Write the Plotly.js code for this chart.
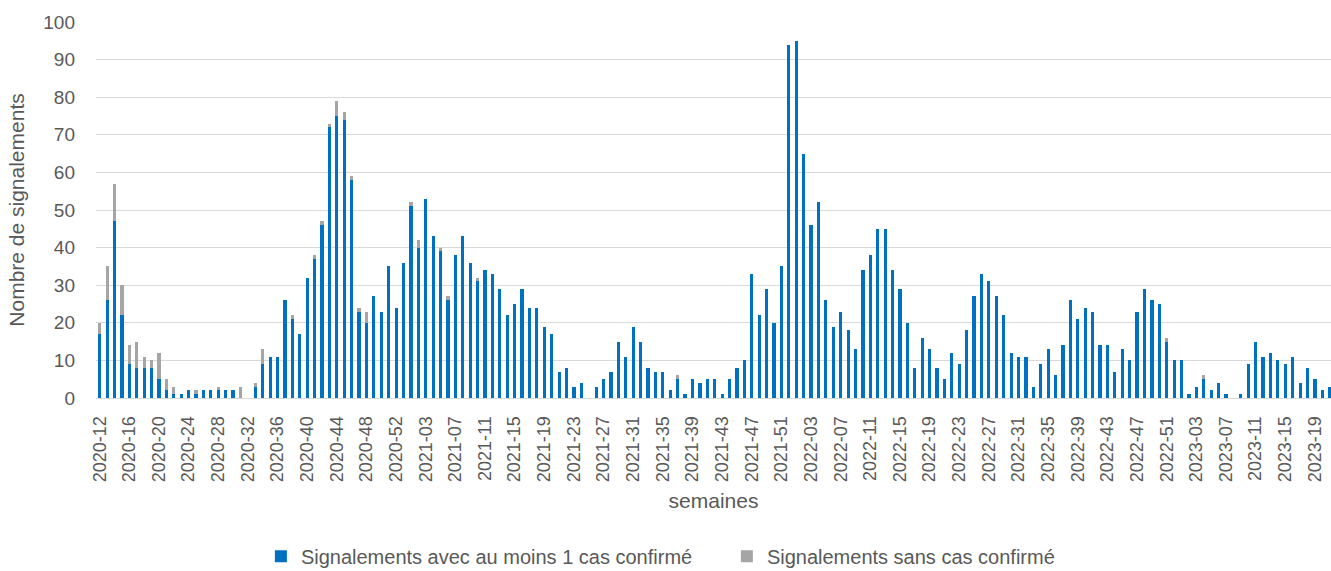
<!DOCTYPE html>
<html>
<head>
<meta charset="utf-8">
<script src="https://cdn.plot.ly/plotly-3.0.1.min.js"></script>
<style>
  html, body { margin: 0; padding: 0; background: #ffffff; }
  #chart { width: 1331px; height: 571px; }
</style>
</head>
<body>
<div id="chart"></div>
<script>
// Week categories (2020-12 … 2023-21)
const weeks = [
  "2020-12","2020-13","2020-14","2020-15","2020-16","2020-17","2020-18","2020-19","2020-20","2020-21",
  "2020-22","2020-23","2020-24","2020-25","2020-26","2020-27","2020-28","2020-29","2020-30","2020-31",
  "2020-32","2020-33","2020-34","2020-35","2020-36","2020-37","2020-38","2020-39","2020-40","2020-41",
  "2020-42","2020-43","2020-44","2020-45","2020-46","2020-47","2020-48","2020-49","2020-50","2020-51",
  "2020-52","2020-53",
  "2021-01","2021-02","2021-03","2021-04","2021-05","2021-06","2021-07","2021-08","2021-09","2021-10",
  "2021-11","2021-12","2021-13","2021-14","2021-15","2021-16","2021-17","2021-18","2021-19","2021-20",
  "2021-21","2021-22","2021-23","2021-24","2021-25","2021-26","2021-27","2021-28","2021-29","2021-30",
  "2021-31","2021-32","2021-33","2021-34","2021-35","2021-36","2021-37","2021-38","2021-39","2021-40",
  "2021-41","2021-42","2021-43","2021-44","2021-45","2021-46","2021-47","2021-48","2021-49","2021-50",
  "2021-51","2021-52",
  "2022-01","2022-02","2022-03","2022-04","2022-05","2022-06","2022-07","2022-08","2022-09","2022-10",
  "2022-11","2022-12","2022-13","2022-14","2022-15","2022-16","2022-17","2022-18","2022-19","2022-20",
  "2022-21","2022-22","2022-23","2022-24","2022-25","2022-26","2022-27","2022-28","2022-29","2022-30",
  "2022-31","2022-32","2022-33","2022-34","2022-35","2022-36","2022-37","2022-38","2022-39","2022-40",
  "2022-41","2022-42","2022-43","2022-44","2022-45","2022-46","2022-47","2022-48","2022-49","2022-50",
  "2022-51","2022-52",
  "2023-01","2023-02","2023-03","2023-04","2023-05","2023-06","2023-07","2023-08","2023-09","2023-10",
  "2023-11","2023-12","2023-13","2023-14","2023-15","2023-16","2023-17","2023-18","2023-19","2023-20",
  "2023-21"
];

// Signalements avec au moins 1 cas confirmé
const confirmes = [
  17,26,47,22,9,8,8,8,5,2,
  1,1,2,1,2,2,2,2,2,0,
  0,3,9,11,11,26,21,17,32,37,
  46,72,75,74,58,23,20,27,23,35,
  24,36,
  51,40,53,43,39,26,38,43,36,31,
  34,33,29,22,25,29,24,24,19,17,
  7,8,3,4,0,3,5,7,15,11,
  19,15,8,7,7,2,5,1,5,4,
  5,5,1,5,8,10,33,22,29,20,
  35,94,
  95,65,46,52,26,19,23,18,13,34,
  38,45,45,34,29,20,8,16,13,8,
  5,12,9,18,27,33,31,27,22,12,
  11,11,3,9,13,6,14,26,21,24,
  23,14,14,7,13,10,23,29,26,25,
  15,10,
  10,1,3,5,2,4,1,0,1,9,
  15,11,12,10,9,11,4,8,5,2,
  3
];

// Signalements sans cas confirmé
const sansCas = [
  3,9,10,8,5,7,3,2,7,3,
  2,0,0,1,0,0,1,0,0,3,
  0,1,4,0,0,0,1,0,0,1,
  1,1,4,2,1,1,3,0,0,0,
  0,0,
  1,2,0,0,1,1,0,0,0,1,
  0,0,0,0,0,0,0,0,0,0,
  0,0,0,0,0,0,0,0,0,0,
  0,0,0,0,0,0,1,0,0,0,
  0,0,0,0,0,0,0,0,0,0,
  0,0,
  0,0,0,0,0,0,0,0,0,0,
  0,0,0,0,0,0,0,0,0,0,
  0,0,0,0,0,0,0,0,0,0,
  0,0,0,0,0,0,0,0,0,0,
  0,0,0,0,0,0,0,0,0,0,
  1,0,
  0,0,0,1,0,0,0,0,0,0,
  0,0,0,0,0,0,0,0,0,0,
  0
];

// Tick labels shown on the x axis
const tickLabels = [
  "2020-12","2020-16","2020-20","2020-24","2020-28","2020-32","2020-36","2020-40","2020-44","2020-48","2020-52",
  "2021-03","2021-07","2021-11","2021-15","2021-19","2021-23","2021-27","2021-31","2021-35","2021-39","2021-43","2021-47","2021-51",
  "2022-03","2022-07","2022-11","2022-15","2022-19","2022-23","2022-27","2022-31","2022-35","2022-39","2022-43","2022-47","2022-51",
  "2023-03","2023-07","2023-11","2023-15","2023-19"
];

const FONT = "'Liberation Sans', Arial, sans-serif";
const TXT = "#595959";

const traces = [
  {
    type: "bar", name: "Signalements avec au moins 1 cas confirmé",
    x: weeks, y: confirmes, marker: { color: "#0070C0" },
    hoverinfo: "x+y"
  },
  {
    type: "bar", name: "Signalements sans cas confirmé",
    x: weeks, y: sansCas, marker: { color: "#A5A5A5" },
    hoverinfo: "x+y"
  }
];

const layout = {
  width: 1331, height: 571,
  margin: { l: 96, r: 0, t: 22, b: 173, pad: 0 },
  paper_bgcolor: "#ffffff", plot_bgcolor: "#ffffff",
  font: { family: FONT, color: TXT, size: 19 },
  barmode: "stack",
  bargap: 0.57,
  showlegend: true,
  legend: {
    orientation: "h", traceorder: "normal",
    xref: "container", yref: "container",
    x: 0.196, xanchor: "left", y: 0.026, yanchor: "middle",
    font: { family: FONT, size: 20, color: TXT },
    entrywidth: 421, entrywidthmode: "pixels",
    bgcolor: "rgba(0,0,0,0)"
  },
  xaxis: {
    type: "category",
    categoryorder: "array", categoryarray: weeks,
    range: [-0.5, 166.17],
    tickmode: "array", tickvals: tickLabels, ticktext: tickLabels,
    tickangle: -90,
    ticks: "", ticklabelstandoff: 10,
    tickfont: { family: FONT, size: 18, color: TXT },
    showgrid: false, zeroline: false,
    showline: true, linecolor: "#D9D9D9", linewidth: 1,
    automargin: false,
    title: { text: "semaines", font: { family: FONT, size: 21, color: TXT }, standoff: 12 }
  },
  yaxis: {
    range: [0, 100], dtick: 10, tick0: 0,
    ticks: "", ticklabelstandoff: 20,
    tickfont: { family: FONT, size: 19, color: TXT },
    showgrid: true, gridcolor: "#D9D9D9", gridwidth: 1,
    zeroline: false, showline: false,
    automargin: false,
    title: { text: "Nombre de signalements", font: { family: FONT, size: 21, color: TXT }, standoff: 12 }
  }
};

Plotly.newPlot("chart", traces, layout, { displayModeBar: false, staticPlot: true });
</script>
</body>
</html>
